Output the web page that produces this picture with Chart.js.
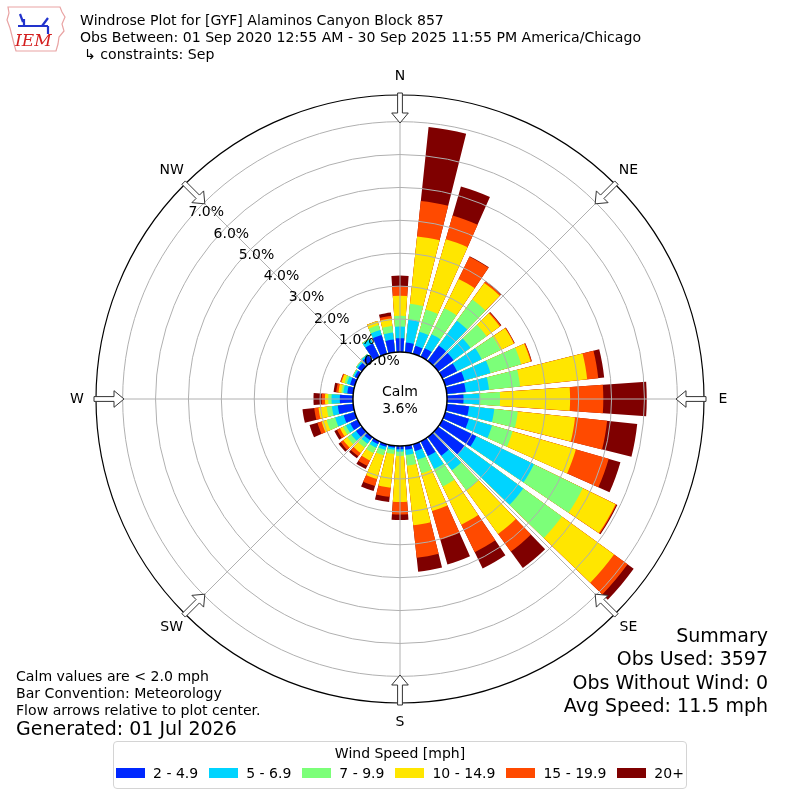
<!DOCTYPE html>
<html>
<head>
<meta charset="utf-8">
<script src="https://cdn.jsdelivr.net/npm/chart.js@4.4.1/dist/chart.umd.min.js"></script>
<style>
body { margin: 0; background: #fff; font-family: "DejaVu Sans", sans-serif; }
#wrap { position: relative; width: 800px; height: 800px; overflow: hidden; }
#rose { position: absolute; left: 0; top: 0; }
.t { position: absolute; white-space: nowrap; font-size: 14.1px; line-height: 14px; color: #000; }
.big { font-size: 19px; line-height: 19px; }
.right { text-align: right; right: 32px; }
#legend { position: absolute; left: 113px; top: 741px; width: 572px; height: 46px; border: 1px solid #d4d4d4; border-radius: 4px; }
#legTitle { position: absolute; left: 0; right: 0; top: 4px; text-align: center; font-size: 14px; line-height: 14px; }
#legRow { position: absolute; left: 0; right: 0; top: 24px; display: flex; justify-content: center; gap: 11px; font-size: 14px; line-height: 14px; }
.item { display: flex; align-items: center; }
.sw { width: 29px; height: 10px; margin-right: 8px; }
</style>
</head>
<body>
<div id="wrap">
  <canvas id="rose" width="800" height="800"></canvas>

  <svg style="position:absolute;left:4px;top:4px" width="64" height="50" viewBox="0 0 64 50">
    <path d="M4 3 L56 3 L58 8 L61 13 L58 20 L60 27 L55 33 L54 40 L52 47 L12 47 L10 40 L8 32 L6 24 L3 16 L5 9 Z" fill="none" stroke="#e9a3a3" stroke-width="1.2"/>
    <path d="M14 22 L44 22 M20 22 L20 15 M38 22 L44 14 M44 22 L44 30 M16 10 L19 18" stroke="#2233cc" stroke-width="2.2" fill="none"/>
    <text x="11" y="42" font-family="DejaVu Serif, serif" font-style="italic" font-size="17" fill="#d42020">IEM</text>
  </svg>

  <div class="t" style="left:80px;top:12.7px">Windrose Plot for [GYF] Alaminos Canyon Block 857</div>
  <div class="t" style="left:80px;top:30.2px">Obs Between: 01 Sep 2020 12:55 AM - 30 Sep 2025 11:55 PM America/Chicago</div>
  <div class="t" style="left:84px;top:46.7px">↳ constraints: Sep</div>

  <div class="t" style="left:16px;top:669.2px">Calm values are &lt; 2.0 mph</div>
  <div class="t" style="left:16px;top:686.2px">Bar Convention: Meteorology</div>
  <div class="t" style="left:16px;top:703.2px">Flow arrows relative to plot center.</div>
  <div class="t big" style="left:16px;top:719px">Generated: 01 Jul 2026</div>

  <div class="t big right" style="top:626px">Summary</div>
  <div class="t big right" style="top:649px">Obs Used: 3597</div>
  <div class="t big right" style="top:673px">Obs Without Wind: 0</div>
  <div class="t big right" style="top:696px">Avg Speed: 11.5 mph</div>

  <div id="legend">
    <div id="legTitle">Wind Speed [mph]</div>
    <div id="legRow"></div>
  </div>
</div>

<script>
// direction bins (degrees, meteorological convention)
const directions = [0, 10, 20, 30, 40, 50, 60, 70, 80, 90, 100, 110, 120, 130, 140, 150, 160, 170,
                    180, 190, 200, 210, 220, 230, 240, 250, 260, 270, 280, 290, 300, 310, 320, 330, 340, 350];

const speedBins = ['2 - 4.9', '5 - 6.9', '7 - 9.9', '10 - 14.9', '15 - 19.9', '20+'];
const binColors = ['#0028ff', '#00d4ff', '#7cff79', '#ffe600', '#ff4a00', '#7f0000'];

// percent of observations in each speed bin, per direction
const s2to5 = [0.42, 0.30, 0.25, 0.29, 0.58, 0.58, 0.50, 0.61, 0.58, 0.50, 0.68, 0.75, 1.15, 1.00, 0.70, 0.50, 0.22, 0.12,
               0.10, 0.06, 0.08, 0.10, 0.12, 0.22, 0.25, 0.35, 0.47, 0.40, 0.18, 0.15, 0.10, 0.15, 0.20, 0.45, 0.59, 0.39];
const s5to7 = [0.35, 0.70, 0.45, 0.47, 0.93, 0.64, 0.83, 0.82, 0.71, 0.50, 0.77, 0.73, 1.95, 2.20, 0.55, 0.44, 0.27, 0.16,
               0.07, 0.06, 0.10, 0.12, 0.13, 0.18, 0.15, 0.27, 0.18, 0.25, 0.12, 0.10, 0.05, 0.05, 0.05, 0.15, 0.16, 0.21];
const s7to10 = [0.33, 0.48, 0.70, 0.88, 0.80, 0.60, 0.64, 0.97, 0.95, 0.61, 0.72, 0.65, 1.65, 1.45, 0.75, 0.59, 0.43, 0.33,
                0.13, 0.13, 0.17, 0.18, 0.15, 0.15, 0.10, 0.27, 0.16, 0.10, 0.06, 0.07, 0.02, 0.02, 0.01, 0.02, 0.16, 0.20];
const s10to15 = [0.61, 2.06, 2.22, 0.99, 0.62, 0.50, 0.45, 0.30, 2.05, 2.13, 1.75, 2.00, 1.11, 1.96, 1.64, 1.29, 1.19, 1.82,
                 1.40, 1.03, 0.75, 0.25, 0.20, 0.15, 0.10, 0.16, 0.25, 0.10, 0.09, 0.10, 0.00, 0.00, 0.00, 0.00, 0.13, 0.23];
const s15to20 = [0.28, 1.08, 0.75, 0.75, 0.05, 0.04, 0.02, 0.03, 0.34, 1.01, 0.98, 1.04, 0.03, 0.51, 0.66, 0.93, 0.91, 0.99,
                 0.38, 0.28, 0.22, 0.18, 0.12, 0.10, 0.10, 0.13, 0.13, 0.10, 0.07, 0.03, 0.00, 0.00, 0.00, 0.00, 0.00, 0.08];
const s20plus = [0.33, 2.26, 0.92, 0.02, 0.02, 0.02, 0.01, 0.01, 0.18, 1.32, 0.92, 0.37, 0.03, 0.23, 0.62, 0.55, 0.78, 0.43,
                 0.17, 0.16, 0.16, 0.11, 0.08, 0.08, 0.09, 0.25, 0.36, 0.25, 0.08, 0.01, 0.00, 0.00, 0.00, 0.00, 0.00, 0.10];

const ringTicks = [0, 1, 2, 3, 4, 5, 6, 7];
const compassNames = ['N', 'NE', 'E', 'SE', 'S', 'SW', 'W', 'NW'];
const compassDirs = [0, 45, 90, 135, 180, 225, 270, 315];
const calmPct = 3.6;

const series = [s2to5, s5to7, s7to10, s10to15, s15to20, s20plus];

// cumulative stacks; each bar is followed by an empty gap slot (bar 8 deg, gap 2 deg)
const labels = [];
directions.forEach(d => { labels.push(d + '°'); labels.push(''); });

const datasets = series.map((s, k) => {
    const data = [];
    directions.forEach((d, i) => {
        let sum = 0;
        for (let j = 0; j <= k; j++) sum += series[j][i];
        data.push(sum);
        data.push(0);
    });
    return {
        label: speedBins[k],
        data: data,
        backgroundColor: ctx => ctx.dataIndex % 2 === 0 ? binColors[k] : 'rgba(0,0,0,0)',
        borderWidth: 0,
        angle: ctx => ctx.dataIndex % 2 === 0 ? 8 : 2
    };
});

const FONT = '14px "DejaVu Sans"';

const roseDecor = {
    id: 'roseDecor',
    afterDatasetsDraw(chart) {
        const s = chart.scales.r;
        const c = chart.ctx;
        const cx = s.xCenter, cy = s.yCenter;
        const rr = v => s.getDistanceFromCenterForValue(v);
        const pt = (deg, r, t) => {
            const a = deg * Math.PI / 180;
            t = t || 0;
            return [cx + r * Math.sin(a) + t * Math.cos(a), cy - r * Math.cos(a) + t * Math.sin(a)];
        };
        c.save();

        // rings and spokes on top of the bars
        c.strokeStyle = '#b0b0b0';
        c.lineWidth = 1;
        ringTicks.forEach(v => {
            if (v > 0) {
                c.beginPath();
                c.arc(cx, cy, rr(v), 0, Math.PI * 2);
                c.stroke();
            }
        });
        compassDirs.forEach(d => {
            const [x, y] = pt(d, s.drawingArea);
            c.beginPath();
            c.moveTo(cx, cy);
            c.lineTo(x, y);
            c.stroke();
        });

        // outer frame
        c.strokeStyle = '#000';
        c.lineWidth = 1.2;
        c.beginPath();
        c.arc(cx, cy, s.drawingArea, 0, Math.PI * 2);
        c.stroke();

        // calm circle
        c.fillStyle = '#fff';
        c.lineWidth = 1.5;
        c.beginPath();
        c.arc(cx, cy, rr(0), 0, Math.PI * 2);
        c.fill();
        c.stroke();

        c.font = FONT;
        c.fillStyle = '#000';
        c.textAlign = 'center';
        c.textBaseline = 'alphabetic';
        c.fillText('Calm', cx, cy - 3);
        c.fillText(calmPct.toFixed(1) + '%', cx, cy + 14);

        // radial tick labels
        c.textAlign = 'left';
        c.textBaseline = 'bottom';
        ringTicks.forEach(v => {
            const [x, y] = pt(310.3, rr(v));
            c.fillText(v.toFixed(1) + '%', x, y);
        });

        // flow arrows and compass names
        const R = s.drawingArea;
        compassDirs.forEach((d, i) => {
            const shape = [[R - 28, 0], [R - 18, -8.3], [R - 18, -2.4], [R + 2, -2.4], [R + 2, 2.4], [R - 18, 2.4], [R - 18, 8.3]];
            c.beginPath();
            shape.forEach((p, j) => {
                const [x, y] = pt(d, p[0], p[1]);
                if (j === 0) c.moveTo(x, y); else c.lineTo(x, y);
            });
            c.closePath();
            c.fillStyle = '#fff';
            c.fill();
            c.strokeStyle = '#333';
            c.lineWidth = 1;
            c.stroke();

            const [lx, ly] = pt(d, R + 19);
            c.fillStyle = '#000';
            c.textAlign = 'center';
            c.textBaseline = 'middle';
            c.fillText(compassNames[i], lx, ly);
        });
        c.restore();
    }
};

new Chart(document.getElementById('rose'), {
    type: 'polarArea',
    data: { labels: labels, datasets: datasets },
    options: {
        responsive: false,
        animation: false,
        layout: { padding: { left: 96, right: 96, top: 95, bottom: 97 } },
        plugins: { legend: { display: false }, tooltip: { enabled: false } },
        scales: {
            r: {
                min: -1.43,
                max: 7.81,
                startAngle: -4,
                ticks: { display: false },
                grid: { display: false },
                angleLines: { display: false },
                pointLabels: { display: false }
            }
        }
    },
    plugins: [roseDecor]
});

// legend entries
const row = document.getElementById('legRow');
speedBins.forEach((name, k) => {
    const item = document.createElement('div');
    item.className = 'item';
    item.innerHTML = '<div class="sw" style="background:' + binColors[k] + '"></div><span>' + name + '</span>';
    row.appendChild(item);
});
</script>
</body>
</html>
